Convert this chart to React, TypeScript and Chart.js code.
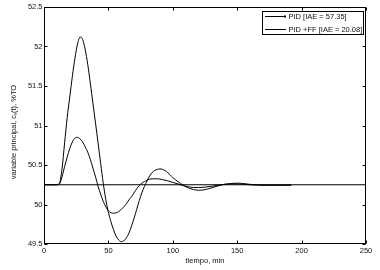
import React, { useEffect, useRef } from "react";
import { Chart, registerables } from "chart.js";

Chart.register(...registerables);

const timeTicks = [0, 50, 100, 150, 200, 250];
const valueTicks = [49.5, 50, 50.5, 51, 51.5, 52, 52.5];

const pidTime = [0, 10, 12, 14, 16, 18, 20, 22, 24, 26, 28, 30, 32, 34, 36, 38, 40, 42, 44, 46, 48, 50, 52, 54, 56, 58, 60, 62, 64, 66, 68, 70, 72, 74, 76, 78, 80, 82, 84, 86, 88, 90, 92, 94, 96, 98, 100, 104, 108, 112, 116, 120, 124, 128, 132, 136, 140, 145, 150, 155, 160, 170, 180, 192];
const pidValues = [50.25, 50.25, 50.27, 50.45, 50.78, 51.1, 51.36, 51.62, 51.85, 52.03, 52.12, 52.09, 51.96, 51.77, 51.53, 51.28, 51.03, 50.78, 50.52, 50.27, 50.06, 49.9, 49.78, 49.68, 49.6, 49.55, 49.53, 49.54, 49.58, 49.64, 49.73, 49.83, 49.94, 50.05, 50.15, 50.23, 50.3, 50.36, 50.405, 50.43, 50.445, 50.45, 50.445, 50.43, 50.405, 50.375, 50.34, 50.29, 50.245, 50.21, 50.19, 50.18, 50.185, 50.2, 50.22, 50.24, 50.255, 50.265, 50.27, 50.265, 50.255, 50.245, 50.245, 50.245];

const ffTime = [0, 10, 12, 14, 16, 18, 20, 22, 24, 26, 28, 30, 32, 34, 36, 38, 40, 42, 44, 46, 48, 50, 52, 54, 56, 58, 60, 62, 64, 66, 68, 70, 72, 74, 76, 78, 80, 84, 88, 92, 96, 100, 104, 108, 112, 116, 120, 125, 130, 135, 140, 145, 150, 160, 170, 180, 192];
const ffValues = [50.25, 50.25, 50.26, 50.35, 50.48, 50.6, 50.71, 50.79, 50.84, 50.85, 50.83, 50.79, 50.73, 50.66, 50.57, 50.46, 50.35, 50.23, 50.13, 50.04, 49.97, 49.92, 49.895, 49.89, 49.895, 49.91, 49.94, 49.97, 50.01, 50.06, 50.1, 50.15, 50.2, 50.24, 50.27, 50.29, 50.31, 50.325, 50.325, 50.315, 50.3, 50.28, 50.26, 50.24, 50.225, 50.215, 50.215, 50.22, 50.23, 50.245, 50.255, 50.26, 50.26, 50.25, 50.245, 50.245, 50.245];

const setpointTime = [0, 250];
const setpointValues = [50.25, 50.25];

const legendLabels = ["PID [IAE = 57.35]", "PID +FF [IAE = 20.08]"];
const xTitle = "tiempo, min";
const yTitle = "variable principal, c\u209B(t), %TO";

const FONT = "'Liberation Sans', Arial, sans-serif";
const INK = "#111";

const framePlugin = {
  id: "matlabFrame",
  afterDraw(chart: any) {
    const { ctx, chartArea } = chart;
    const { left, right, top, bottom } = chartArea;
    const xs = chart.scales.x;
    const ys = chart.scales.y;
    ctx.save();
    ctx.strokeStyle = "#000";
    ctx.lineWidth = 1;
    const L = Math.round(left) + 0.5;
    const R = Math.round(right) - 0.5;
    const T = Math.round(top) + 0.5;
    const B = Math.round(bottom) - 0.5;
    ctx.strokeRect(L, T, R - L, B - T);
    const tl = 3;
    ctx.beginPath();
    timeTicks.forEach((v) => {
      const x = Math.round(xs.getPixelForValue(v)) + 0.5;
      ctx.moveTo(x, B);
      ctx.lineTo(x, B - tl);
      ctx.moveTo(x, T);
      ctx.lineTo(x, T + tl);
    });
    valueTicks.forEach((v) => {
      const y = Math.round(ys.getPixelForValue(v)) + 0.5;
      ctx.moveTo(L, y);
      ctx.lineTo(L + tl, y);
      ctx.moveTo(R, y);
      ctx.lineTo(R - tl, y);
    });
    ctx.stroke();

    // legend
    const lx = 262.5, ly = 11.5, lw = 101, lh = 23;
    ctx.fillStyle = "#fff";
    ctx.fillRect(lx, ly, lw, lh);
    ctx.strokeRect(lx, ly, lw, lh);
    ctx.font = `7.5px ${FONT}`;
    ctx.textBaseline = "middle";
    ctx.textAlign = "left";
    const rows = [16.5, 29.5];
    legendLabels.forEach((label, i) => {
      const y = rows[i];
      ctx.beginPath();
      ctx.moveTo(265, y);
      ctx.lineTo(286, y);
      ctx.stroke();
      if (i === 0) {
        ctx.fillStyle = "#000";
        ctx.fillRect(284, y - 1, 2, 2);
      }
      ctx.fillStyle = INK;
      ctx.fillText(label, 288.5, y + 0.5);
    });

    // titles
    ctx.fillStyle = INK;
    ctx.textAlign = "center";
    ctx.textBaseline = "middle";
    ctx.fillText(xTitle, (left + right) / 2, 261);
    ctx.save();
    ctx.translate(14, 132);
    ctx.rotate(-Math.PI / 2);
    ctx.fillText(yTitle, 0, 0);
    ctx.restore();
    ctx.restore();
  },
};

function toPoints(xs: number[], ys: number[]) {
  return xs.map((x, i) => ({ x, y: ys[i] }));
}

export default function App() {
  const ref = useRef<HTMLCanvasElement | null>(null);
  useEffect(() => {
    if (!ref.current) return;
    const chart = new Chart(ref.current, {
      type: "line",
      data: {
        datasets: [
          {
            label: legendLabels[0],
            data: toPoints(pidTime, pidValues),
            borderColor: "#000",
            borderWidth: 1,
            pointRadius: 0,
            cubicInterpolationMode: "monotone",
            fill: false,
          },
          {
            label: legendLabels[1],
            data: toPoints(ffTime, ffValues),
            borderColor: "#000",
            borderWidth: 1,
            pointRadius: 0,
            cubicInterpolationMode: "monotone",
            fill: false,
          },
          {
            label: "setpoint",
            data: toPoints(setpointTime, setpointValues),
            borderColor: "#000",
            borderWidth: 1,
            pointRadius: 0,
            fill: false,
          },
        ],
      },
      options: {
        animation: false,
        responsive: false,
        devicePixelRatio: 1,
        layout: { padding: { top: 7, right: 14, left: 0, bottom: 0 } },
        plugins: { legend: { display: false }, tooltip: { enabled: false } },
        scales: {
          x: {
            type: "linear",
            min: 0,
            max: 250,
            grid: { display: false, drawTicks: false },
            border: { display: false },
            afterBuildTicks: (s: any) => {
              s.ticks = timeTicks.map((v) => ({ value: v }));
            },
            afterFit: (s: any) => {
              s.height = 26;
            },
            ticks: {
              padding: 2,
              color: INK,
              font: { family: FONT, size: 7.5 },
              maxRotation: 0,
              autoSkip: false,
              callback: (v: any) => String(v),
            },
          },
          y: {
            type: "linear",
            min: 49.5,
            max: 52.5,
            grid: { display: false, drawTicks: false },
            border: { display: false },
            afterBuildTicks: (s: any) => {
              s.ticks = valueTicks.map((v) => ({ value: v }));
            },
            afterFit: (s: any) => {
              s.width = 44;
            },
            ticks: {
              padding: 1.5,
              color: INK,
              font: { family: FONT, size: 7.5 },
              autoSkip: false,
              callback: (v: any) => String(v),
            },
          },
        },
      },
      plugins: [framePlugin],
    } as any);
    return () => chart.destroy();
  }, []);
  return (
    <div style={{ position: "fixed", left: 0, top: 0, width: 380, height: 270, background: "#fff" }}>
      <canvas ref={ref} width={380} height={270} style={{ display: "block", width: 380, height: 270 }} />
    </div>
  );
}
